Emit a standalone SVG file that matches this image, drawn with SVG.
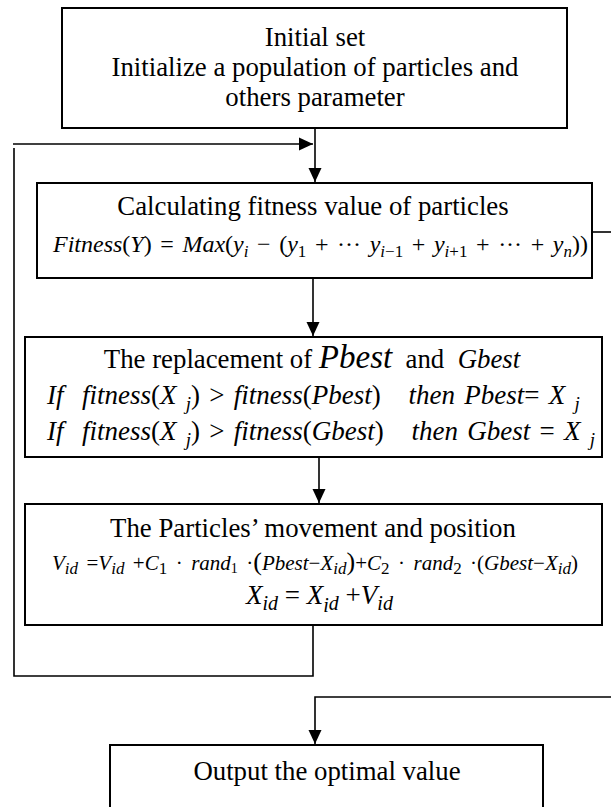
<svg xmlns="http://www.w3.org/2000/svg" width="611" height="807" viewBox="0 0 611 807">
<defs>
<marker id="ah" markerUnits="userSpaceOnUse" markerWidth="14" markerHeight="14" viewBox="0 0 14 14" refX="14" refY="7" orient="auto">
<path d="M0,0.5 L14,7 L0,13.5 Z" fill="#000"/>
</marker>
<style>
.box{fill:#fff;stroke:#000;stroke-width:2}
.ln{fill:none;stroke:#000;stroke-width:1.6}
text{font-family:"Liberation Serif","Times New Roman",serif;fill:#000}
.t{font-size:26.8px}
.it{font-style:italic}
.n{font-style:normal}
</style>
</defs>
<g id="connectors">
<line class="ln" x1="315" y1="128" x2="315" y2="182" marker-end="url(#ah)"/>
<polyline class="ln" points="313,625 313,676 14,676 14,148"/>
<line class="ln" x1="13" y1="144" x2="313" y2="144" marker-end="url(#ah)"/>
<line class="ln" x1="313" y1="278" x2="313" y2="336" marker-end="url(#ah)"/>
<line class="ln" x1="319" y1="457" x2="319" y2="503" marker-end="url(#ah)"/>
<line class="ln" x1="592" y1="232" x2="611" y2="232"/>
<polyline class="ln" points="611,697 315,697 315,744" marker-end="url(#ah)"/>
</g>
<g id="init">
<rect class="box" x="62" y="8" width="505" height="120"/>
<text class="t" x="315" y="46" text-anchor="middle">Initial set</text>
<text class="t" x="315" y="76" text-anchor="middle">Initialize a population of particles and</text>
<text class="t" x="315" y="106" text-anchor="middle">others parameter</text>
</g>
<g id="fitness">
<rect class="box" x="37" y="183" width="555" height="95"/>
<text class="t" x="313" y="215" text-anchor="middle">Calculating fitness value of particles</text>
<text x="53" y="252" font-size="24" word-spacing="2.6"><tspan class="it">Fitness</tspan>(<tspan class="it">Y</tspan>) = <tspan class="it">Max</tspan>(<tspan class="it">y</tspan><tspan class="it" font-size="17" dy="5">i</tspan><tspan dy="-5"> − (</tspan><tspan class="it">y</tspan><tspan font-size="17" dy="5">1</tspan><tspan dy="-5"> + ··· </tspan><tspan class="it">y</tspan><tspan class="it" font-size="17" dy="5">i</tspan><tspan font-size="17">−1</tspan><tspan dy="-5"> + </tspan><tspan class="it">y</tspan><tspan class="it" font-size="17" dy="5">i</tspan><tspan font-size="17">+1</tspan><tspan dy="-5"> + ··· + </tspan><tspan class="it">y</tspan><tspan class="it" font-size="17" dy="5">n</tspan><tspan dy="-5">))</tspan></text>
</g>
<g id="replace">
<rect class="box" x="25" y="337" width="577" height="120"/>
<text class="t" x="312" y="368" text-anchor="middle" xml:space="preserve">The replacement of <tspan class="it" font-size="33">Pbest</tspan>  and  <tspan class="it">Gbest</tspan></text>
<text class="it" font-size="27" word-spacing="2.5" x="47" y="404" xml:space="preserve">If  fitness<tspan class="n">(</tspan>X <tspan font-size="19" dy="6">j</tspan><tspan class="n" dy="-6">) &gt; </tspan>fitness<tspan class="n">(</tspan>Pbest<tspan class="n">)</tspan>   then Pbest<tspan class="n">=</tspan> X <tspan font-size="19" dy="6">j</tspan></text>
<text class="it" font-size="27" word-spacing="2.5" x="47" y="440" xml:space="preserve">If  fitness<tspan class="n">(</tspan>X <tspan font-size="19" dy="6">j</tspan><tspan class="n" dy="-6">) &gt; </tspan>fitness<tspan class="n">(</tspan>Gbest<tspan class="n">)</tspan>   then Gbest <tspan class="n">=</tspan> X <tspan font-size="19" dy="6">j</tspan></text>
</g>
<g id="move">
<rect class="box" x="25" y="504" width="577" height="121"/>
<text class="t" x="313" y="537" text-anchor="middle">The Particles’ movement and position</text>
<text x="52" y="570" font-size="21" word-spacing="3.2"><tspan class="it">V</tspan><tspan class="it" font-size="17" dy="4">id</tspan><tspan dy="-4"> =</tspan><tspan class="it">V</tspan><tspan class="it" font-size="17" dy="4">id</tspan><tspan dy="-4"> +</tspan><tspan class="it">C</tspan><tspan font-size="17" dy="4">1</tspan><tspan dy="-4"> · </tspan><tspan class="it">rand</tspan><tspan font-size="14" dy="3">1</tspan><tspan dy="-3"> ·</tspan><tspan font-size="26">(</tspan><tspan class="it">Pbest</tspan>−<tspan class="it">X</tspan><tspan class="it" font-size="17" dy="4">id</tspan><tspan dy="-4" font-size="26">)</tspan>+<tspan class="it">C</tspan><tspan font-size="17" dy="4">2</tspan><tspan dy="-4"> · </tspan><tspan class="it">rand</tspan><tspan font-size="17" dy="4">2</tspan><tspan dy="-4"> ·(</tspan><tspan class="it">Gbest</tspan>−<tspan class="it">X</tspan><tspan class="it" font-size="17" dy="4">id</tspan><tspan dy="-4">)</tspan></text>
<text x="246" y="604" font-size="27"><tspan class="it">X</tspan><tspan class="it" font-size="20" dy="6">id</tspan><tspan dy="-6"> = </tspan><tspan class="it">X</tspan><tspan class="it" font-size="20" dy="8">i</tspan><tspan class="it" font-size="20" dy="-2">d</tspan><tspan dy="-6"> +</tspan><tspan class="it">V</tspan><tspan class="it" font-size="20" dy="6">id</tspan></text>
</g>
<g id="output">
<rect class="box" x="110" y="745" width="433" height="100"/>
<text class="t" x="327" y="780" text-anchor="middle">Output the optimal value</text>
</g>
</svg>
